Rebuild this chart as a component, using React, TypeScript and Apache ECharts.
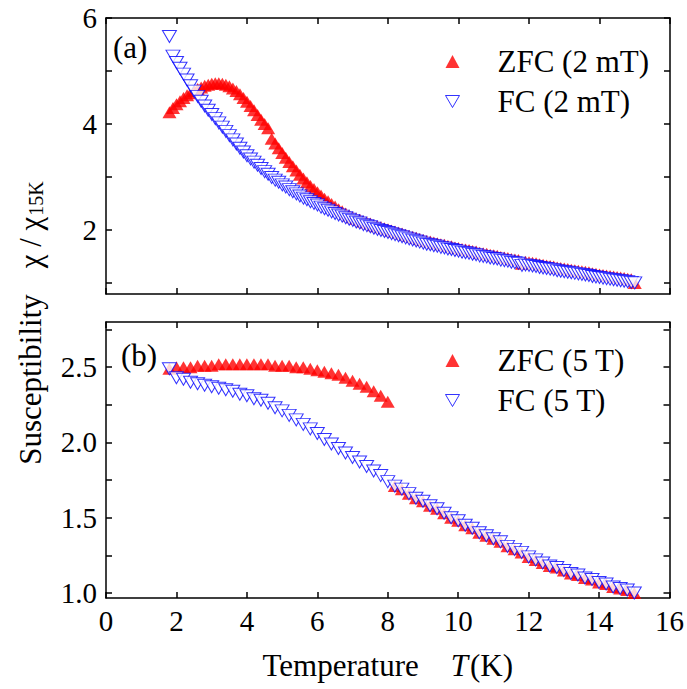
import React, { useEffect, useRef } from "react";
import * as echarts from "echarts";

const FONT = "Liberation Serif";

// Panel (a): 2 mT, T step 0.1 K
const tempA = [
  1.8, 1.9, 2.0, 2.1, 2.2, 2.3, 2.4, 2.5, 2.6, 2.7,
  2.8, 2.9, 3.0, 3.1, 3.2, 3.3, 3.4, 3.5, 3.6, 3.7,
  3.8, 3.9, 4.0, 4.1, 4.2, 4.3, 4.4, 4.5, 4.6, 4.7,
  4.8, 4.9, 5.0, 5.1, 5.2, 5.3, 5.4, 5.5, 5.6, 5.7,
  5.8, 5.9, 6.0, 6.1, 6.2, 6.3, 6.4, 6.5, 6.6, 6.7,
  6.8, 6.9, 7.0, 7.1, 7.2, 7.3, 7.4, 7.5, 7.6, 7.7,
  7.8, 7.9, 8.0, 8.1, 8.2, 8.3, 8.4, 8.5, 8.6, 8.7,
  8.8, 8.9, 9.0, 9.1, 9.2, 9.3, 9.4, 9.5, 9.6, 9.7,
  9.8, 9.9, 10.0, 10.1, 10.2, 10.3, 10.4, 10.5, 10.6, 10.7,
  10.8, 10.9, 11.0, 11.1, 11.2, 11.3, 11.4, 11.5, 11.6, 11.7,
  11.8, 11.9, 12.0, 12.1, 12.2, 12.3, 12.4, 12.5, 12.6, 12.7,
  12.8, 12.9, 13.0, 13.1, 13.2, 13.3, 13.4, 13.5, 13.6, 13.7,
  13.8, 13.9, 14.0, 14.1, 14.2, 14.3, 14.4, 14.5, 14.6, 14.7,
  14.8, 14.9, 15.0,
];

const zfcA = [
  4.22, 4.30, 4.37, 4.43, 4.49, 4.54, 4.58, 4.62, 4.66, 4.69,
  4.72, 4.74, 4.76, 4.77, 4.77, 4.76, 4.74, 4.71, 4.67, 4.62,
  4.56, 4.49, 4.42, 4.34, 4.26, 4.17, 4.08, 4.00, 3.92, 3.72,
  3.63, 3.54, 3.45, 3.36, 3.28, 3.20, 3.12, 3.04, 2.97, 2.90,
  2.83, 2.77, 2.71, 2.65, 2.59, 2.54, 2.49, 2.44, 2.39, 2.35,
  2.31, 2.27, 2.24, 2.21, 2.19, 2.16, 2.14, 2.12, 2.09, 2.07,
  2.05, 2.03, 2.01, 1.99, 1.97, 1.95, 1.93, 1.91, 1.89, 1.87,
  1.85, 1.83, 1.81, 1.79, 1.78, 1.76, 1.75, 1.73, 1.72, 1.70,
  1.69, 1.67, 1.66, 1.64, 1.63, 1.62, 1.60, 1.59, 1.57, 1.56,
  1.55, 1.53, 1.52, 1.51, 1.49, 1.48, 1.47, 1.45, 1.44, 1.43,
  1.36, 1.40, 1.39, 1.38, 1.37, 1.35, 1.34, 1.33, 1.32, 1.31,
  1.29, 1.28, 1.27, 1.26, 1.25, 1.24, 1.23, 1.22, 1.21, 1.20,
  1.18, 1.17, 1.16, 1.15, 1.14, 1.13, 1.12, 1.11, 1.10, 1.09,
  1.08, 1.07, 1.00,
];

const fcA = [
  5.65, 5.28, 5.16, 5.05, 4.94, 4.83, 4.72, 4.62, 4.52, 4.43,
  4.34, 4.26, 4.18, 4.10, 4.02, 3.94, 3.86, 3.78, 3.70, 3.62,
  3.54, 3.47, 3.40, 3.34, 3.28, 3.22, 3.16, 3.10, 3.05, 2.99,
  2.94, 2.90, 2.85, 2.81, 2.76, 2.72, 2.68, 2.64, 2.60, 2.57,
  2.53, 2.50, 2.47, 2.43, 2.40, 2.37, 2.34, 2.31, 2.28, 2.26,
  2.23, 2.20, 2.18, 2.15, 2.13, 2.10, 2.08, 2.06, 2.03, 2.01,
  1.99, 1.97, 1.95, 1.93, 1.91, 1.89, 1.87, 1.85, 1.83, 1.81,
  1.79, 1.77, 1.75, 1.73, 1.72, 1.70, 1.69, 1.67, 1.66, 1.64,
  1.63, 1.61, 1.60, 1.58, 1.57, 1.56, 1.54, 1.53, 1.51, 1.50,
  1.49, 1.47, 1.46, 1.45, 1.43, 1.42, 1.41, 1.39, 1.38, 1.37,
  1.33, 1.34, 1.33, 1.32, 1.31, 1.29, 1.28, 1.27, 1.26, 1.25,
  1.23, 1.22, 1.21, 1.20, 1.19, 1.18, 1.17, 1.16, 1.15, 1.14,
  1.12, 1.11, 1.10, 1.09, 1.08, 1.07, 1.06, 1.05, 1.04, 1.03,
  1.02, 1.01, 1.00,
];

// Panel (b): 5 T, T step 0.2 K
const tempB = [
  1.8, 2.0, 2.2, 2.4, 2.6, 2.8, 3.0, 3.2, 3.4, 3.6,
  3.8, 4.0, 4.2, 4.4, 4.6, 4.8, 5.0, 5.2, 5.4, 5.6,
  5.8, 6.0, 6.2, 6.4, 6.6, 6.8, 7.0, 7.2, 7.4, 7.6,
  7.8, 8.0, 8.2, 8.4, 8.6, 8.8, 9.0, 9.2, 9.4, 9.6,
  9.8, 10.0, 10.2, 10.4, 10.6, 10.8, 11.0, 11.2, 11.4, 11.6,
  11.8, 12.0, 12.2, 12.4, 12.6, 12.8, 13.0, 13.2, 13.4, 13.6,
  13.8, 14.0, 14.2, 14.4, 14.6, 14.8, 15.0,
];

const zfcB = [
  2.49, 2.50, 2.50, 2.50, 2.51, 2.51, 2.51, 2.52, 2.52, 2.52,
  2.52, 2.52, 2.52, 2.52, 2.52, 2.51, 2.51, 2.51, 2.50, 2.50,
  2.49, 2.48, 2.47, 2.46, 2.45, 2.43, 2.41, 2.39, 2.37, 2.34,
  2.31, 2.27, 1.71, 1.69, 1.66, 1.63, 1.61, 1.58, 1.56, 1.53,
  1.50, 1.48, 1.45, 1.43, 1.40, 1.38, 1.36, 1.34, 1.31, 1.29,
  1.27, 1.24, 1.22, 1.20, 1.18, 1.17, 1.15, 1.13, 1.12, 1.10,
  1.09, 1.07, 1.06, 1.04, 1.03, 1.02, 1.00,
];

const fcB = [
  2.49, 2.43, 2.42, 2.40, 2.39, 2.38, 2.37, 2.36, 2.35, 2.34,
  2.32, 2.31, 2.29, 2.28, 2.26, 2.23, 2.21, 2.18, 2.15, 2.12,
  2.09, 2.06, 2.02, 1.99, 1.96, 1.93, 1.90, 1.87, 1.84, 1.81,
  1.78, 1.74, 1.71, 1.69, 1.66, 1.63, 1.61, 1.58, 1.56, 1.53,
  1.50, 1.48, 1.45, 1.43, 1.40, 1.38, 1.36, 1.34, 1.31, 1.29,
  1.27, 1.24, 1.22, 1.20, 1.18, 1.17, 1.15, 1.13, 1.12, 1.10,
  1.09, 1.07, 1.06, 1.04, 1.03, 1.02, 1.00,
];

const xTicks = [0, 2, 4, 6, 8, 10, 12, 14, 16];
const yLabelsA = [2, 4, 6];
const yTicksA = [1, 2, 3, 4, 5, 6];
const yLabelsB = [1.0, 1.5, 2.0, 2.5];
const yTicksB = [1.0, 1.25, 1.5, 1.75, 2.0, 2.25, 2.5, 2.75];

const namesA = ["ZFC (2 mT)", "FC (2 mT)"];
const namesB = ["ZFC (5 T)", "FC (5 T)"];

const zip = (xs: number[], ys: number[]) => xs.map((x, i) => [x, ys[i]]);

export default function App() {
  const ref = useRef<HTMLDivElement>(null);

  useEffect(() => {
    if (!ref.current) return;
    const chart = echarts.init(ref.current, null, { renderer: "svg" });

    const lineStyle = { color: "#000", width: 1.5 };
    const xAxisOf = (gridIndex: number, position: string, showLabel: boolean, extra: any = {}) => ({
      type: "value",
      gridIndex,
      position,
      min: 0,
      max: 16,
      interval: 2,
      axisLine: { show: true, onZero: false, lineStyle },
      axisTick: { show: true, inside: true, length: 6, lineStyle },
      splitLine: { show: false },
      axisLabel: {
        show: showLabel,
        customValues: xTicks,
        color: "#000",
        fontFamily: FONT,
        fontSize: 29,
        margin: 8,
      },
      ...extra,
    });
    const yAxisOf = (
      gridIndex: number,
      position: string,
      min: number,
      max: number,
      labels: number[],
      ticks: number[],
      showLabel: boolean,
      fmt: (v: number) => string
    ) => ({
      type: "value",
      gridIndex,
      position,
      min,
      max,
      axisLine: { show: true, onZero: false, lineStyle },
      axisTick: { show: true, inside: true, length: 6, lineStyle, customValues: ticks },
      splitLine: { show: false },
      axisLabel: {
        show: showLabel,
        customValues: labels,
        formatter: fmt,
        color: "#000",
        fontFamily: FONT,
        fontSize: 29,
        margin: 9,
      },
    });

    const fmtA = (v: number) => String(v);
    const fmtB = (v: number) => v.toFixed(1);

    const zfcStyle = {
      type: "scatter",
      symbol: "triangle",
      symbolSize: [14, 12],
      itemStyle: { color: "#ff0000" },
      emphasis: { disabled: true },
      z: 2,
    };
    const fcStyle = {
      type: "scatter",
      symbol: "triangle",
      symbolRotate: 180,
      symbolSize: [14, 12],
      itemStyle: { color: "#ffffff", borderColor: "#0000ff", borderWidth: 1 },
      emphasis: { disabled: true },
      z: 3,
    };

    const legendBase = {
      orient: "vertical",
      left: 445,
      padding: 0,
      itemWidth: 14,
      itemHeight: 13,
      itemGap: 9,
      selectedMode: false,
      textStyle: {
        fontFamily: FONT,
        fontSize: 31,
        color: "#000",
        lineHeight: 30,
        padding: [0, 0, 0, 33],
      },
    };
    const downTri = "path://M0,0L14,0L7,12Z";
    const legendItems = (names: string[]) => [
      { name: names[0], icon: "triangle", itemStyle: { color: "#ff0000", borderWidth: 0 } },
      {
        name: names[1],
        icon: downTri,
        itemStyle: { color: "#ffffff", borderColor: "#0000ff", borderWidth: 1 },
      },
    ];

    const option: any = {
      animation: false,
      backgroundColor: "#ffffff",
      textStyle: { fontFamily: FONT },
      grid: [
        { left: 106, top: 18, width: 564, height: 276 },
        { left: 106, top: 322, width: 564, height: 276 },
      ],
      xAxis: [
        xAxisOf(0, "bottom", false),
        xAxisOf(0, "top", false),
        xAxisOf(1, "bottom", true, {
          name: "{n|Temperature}{g|}{i|T}{n|(K)}",
          nameLocation: "middle",
          nameGap: 52,
          nameTextStyle: {
            rich: {
              n: { fontFamily: FONT, fontSize: 31, color: "#000", lineHeight: 31 },
              g: { width: 32, fontSize: 31, lineHeight: 31 },
              i: { fontFamily: FONT, fontSize: 31, fontStyle: "italic", color: "#000", lineHeight: 31, padding: [0, 2, 0, 0] },
            },
          },
        }),
        xAxisOf(1, "top", false),
      ],
      yAxis: [
        yAxisOf(0, "left", 0.79, 6, yLabelsA, yTicksA, true, fmtA),
        yAxisOf(0, "right", 0.79, 6, yLabelsA, yTicksA, false, fmtA),
        yAxisOf(1, "left", 0.967, 2.8, yLabelsB, yTicksB, true, fmtB),
        yAxisOf(1, "right", 0.967, 2.8, yLabelsB, yTicksB, false, fmtB),
      ],
      legend: [
        { ...legendBase, top: 46, data: legendItems(namesA) },
        { ...legendBase, top: 345, data: legendItems(namesB) },
      ],
      series: [
        { ...zfcStyle, name: namesA[0], xAxisIndex: 0, yAxisIndex: 0, data: zip(tempA, zfcA) },
        { ...fcStyle, name: namesA[1], xAxisIndex: 0, yAxisIndex: 0, data: zip(tempA, fcA) },
        { ...zfcStyle, name: namesB[0], xAxisIndex: 2, yAxisIndex: 2, data: zip(tempB, zfcB) },
        { ...fcStyle, name: namesB[1], xAxisIndex: 2, yAxisIndex: 2, data: zip(tempB, fcB) },
      ],
      graphic: [
        {
          type: "text",
          left: 113,
          top: 32,
          style: { text: "(a)", fontFamily: FONT, fontSize: 31, fill: "#000" },
        },
        {
          type: "text",
          left: 121,
          top: 340,
          style: { text: "(b)", fontFamily: FONT, fontSize: 31, fill: "#000" },
        },
        {
          type: "text",
          x: 30,
          y: 323,
          rotation: Math.PI / 2,
          style: {
            text: "{n|Susceptibility}{g|}{c|χ / χ}{s|15K}",
            align: "center",
            verticalAlign: "middle",
            fontFamily: FONT,
            fontSize: 31,
            fill: "#000",
            rich: {
              n: { fontFamily: FONT, fontSize: 31, fill: "#000", lineHeight: 31, verticalAlign: "top" },
              g: { width: 26, fontSize: 31, lineHeight: 31, verticalAlign: "top" },
              c: { fontFamily: FONT, fontSize: 31, fill: "#000", lineHeight: 31, verticalAlign: "top" },
              s: { fontFamily: FONT, fontSize: 20, fill: "#000", lineHeight: 20, verticalAlign: "bottom", padding: [14, 0, 0, 1] },
            },
          },
        },
      ],
    };

    chart.setOption(option);
    return () => chart.dispose();
  }, []);

  return (
    <div
      ref={ref}
      style={{ position: "fixed", left: 0, top: 0, width: 687, height: 689, background: "#fff" }}
    />
  );
}
